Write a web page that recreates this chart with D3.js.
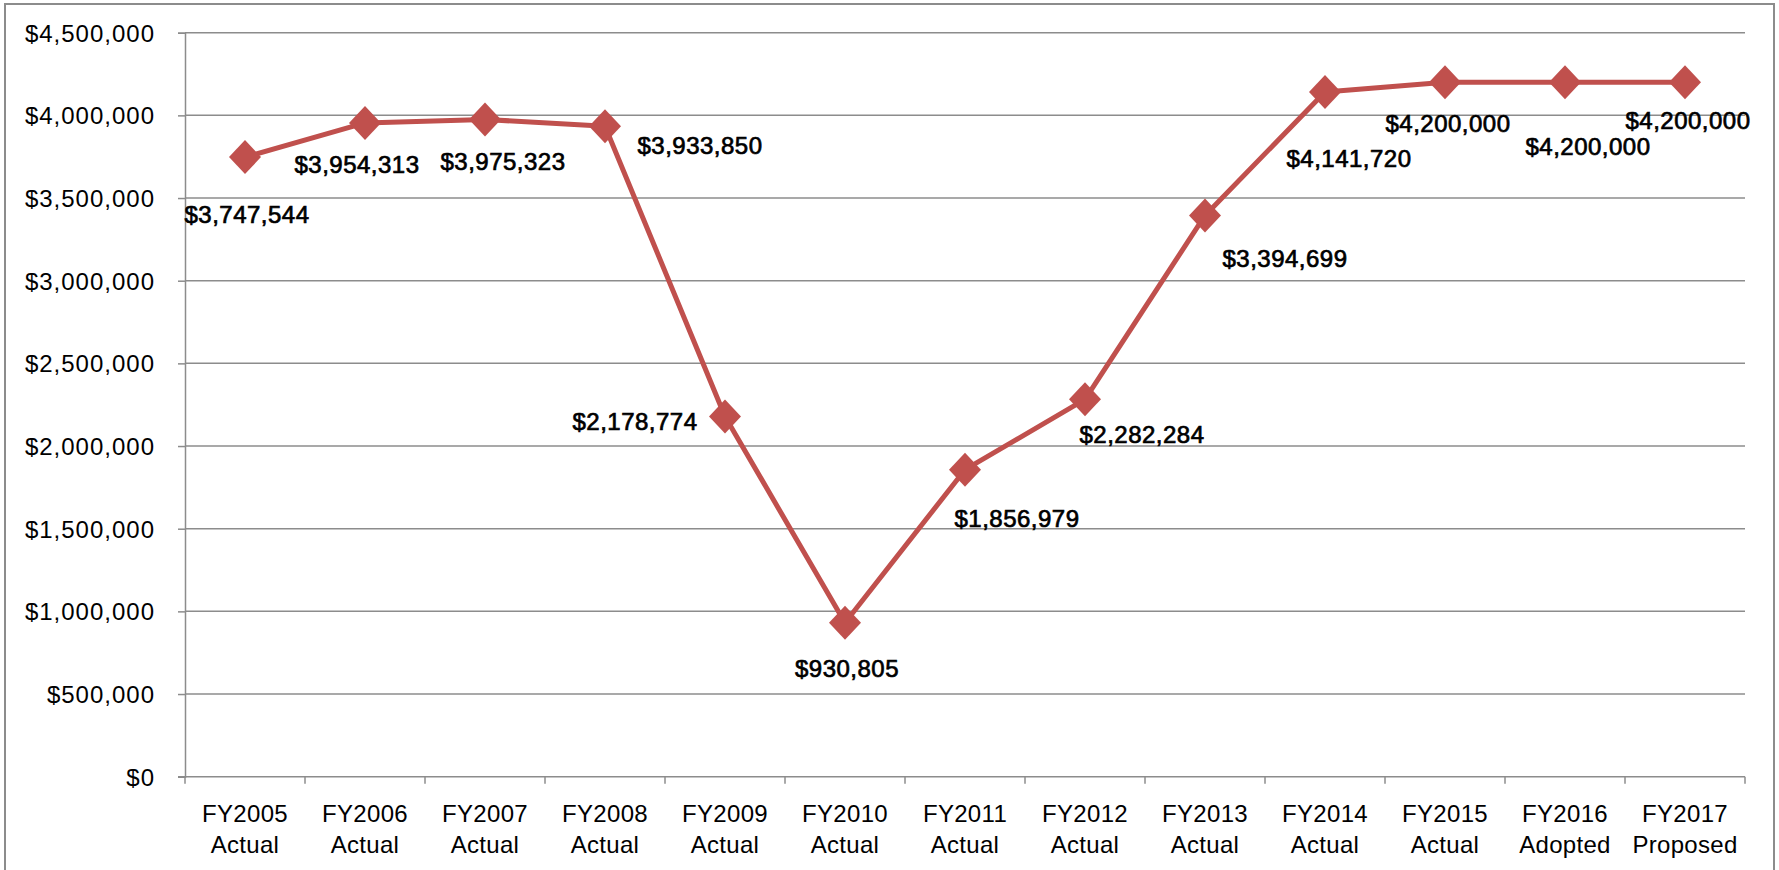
<!DOCTYPE html>
<html>
<head>
<meta charset="utf-8">
<script src="https://cdn.jsdelivr.net/npm/d3@7/dist/d3.min.js"></script>
<style>
  html, body { margin: 0; padding: 0; background: #fff; }
  svg { display: block; }
</style>
</head>
<body>
<svg id="chart" width="1779" height="870"></svg>
<script>
// ---- data ----
const categories = ["FY2005 Actual", "FY2006 Actual", "FY2007 Actual", "FY2008 Actual", "FY2009 Actual",
  "FY2010 Actual", "FY2011 Actual", "FY2012 Actual", "FY2013 Actual", "FY2014 Actual",
  "FY2015 Actual", "FY2016 Adopted", "FY2017 Proposed"];
const values = [3747544, 3954313, 3975323, 3933850, 2178774, 930805, 1856979, 2282284, 3394699, 4141720, 4200000, 4200000, 4200000];
const yTicks = [0, 500000, 1000000, 1500000, 2000000, 2500000, 3000000, 3500000, 4000000, 4500000];

// label placement offsets relative to each point (layout only)
const labelOffsets = [[2, 57], [-8, 41], [18, 42], [95, 19], [-90, 5], [2, 46], [52, 49], [57, 35], [80, 43], [24, 66], [3, 41], [23, 64], [3, 38]];

(function () {
const svg = d3.select("#chart");
const W = 1779, H = 870;
const pLeft = 185, pRight = 1745, pTop = 32.7, pBottom = 776.7;
const grey = "#8c8c8c";
const red = "#C0504D";
const fontFam = "'Liberation Sans', Arial, sans-serif";

svg.append("rect").attr("width", W).attr("height", H).attr("fill", "#fff");
// outer border
svg.append("rect").attr("x", 5).attr("y", 4).attr("width", 1769).attr("height", 880)
  .attr("fill", "none").attr("stroke", grey).attr("stroke-width", 2);

const x = d3.scaleBand().domain(categories).range([pLeft, pRight]).padding(0);
const y = d3.scaleLinear().domain([0, 4500000]).range([pBottom, pTop]);

// gridlines
svg.append("g").selectAll("line").data(yTicks.filter(d => d > 0)).join("line")
  .attr("x1", pLeft).attr("x2", pRight)
  .attr("y1", d => y(d)).attr("y2", d => y(d))
  .attr("stroke", grey).attr("stroke-width", 1.5);

// y axis
const fmt = d => "$" + d3.format(",")(d);
const yAxis = svg.append("g").attr("transform", `translate(${pLeft},0)`)
  .call(d3.axisLeft(y).tickValues(yTicks).tickFormat(fmt).tickSize(7).tickPadding(23));
yAxis.select(".domain").attr("stroke", grey).attr("stroke-width", 1.5);
yAxis.selectAll(".tick line").attr("stroke", grey).attr("stroke-width", 1.5);
yAxis.selectAll(".tick text").attr("fill", "#000").style("font-family", fontFam)
  .style("font-size", "24px").style("letter-spacing", "1px").attr("dy", "0.35em");

// x axis line
svg.append("line").attr("x1", pLeft - 7).attr("x2", pRight).attr("y1", pBottom).attr("y2", pBottom)
  .attr("stroke", grey).attr("stroke-width", 1.5);
// boundary ticks
const bounds = categories.map(c => x(c)).concat([x.range()[1]]);
svg.append("g").selectAll("line").data(bounds).join("line")
  .attr("x1", d => d).attr("x2", d => d).attr("y1", pBottom).attr("y2", pBottom + 7)
  .attr("stroke", grey).attr("stroke-width", 1.5);

// x labels
const xl = svg.append("g").selectAll("text").data(categories).join("text")
  .attr("x", d => x(d) + x.bandwidth() / 2)
  .attr("y", pBottom + 45.6)
  .attr("text-anchor", "middle")
  .style("font-family", fontFam).style("font-size", "24px").style("letter-spacing", "0.3px").attr("fill", "#000");
xl.each(function(d) {
  const parts = d.split(" ");
  const t = d3.select(this);
  t.append("tspan").attr("x", x(d) + x.bandwidth() / 2).text(parts[0]);
  t.append("tspan").attr("x", x(d) + x.bandwidth() / 2).attr("dy", 30.4).text(parts.slice(1).join(" "));
});

// line
const pts = categories.map((c, i) => ({ c, v: values[i], i }));
const line = d3.line().x(d => x(d.c) + x.bandwidth() / 2).y(d => y(d.v));
svg.append("path").datum(pts).attr("d", line)
  .attr("fill", "none").attr("stroke", red).attr("stroke-width", 5).attr("stroke-linejoin", "round");

// markers
svg.append("g").selectAll("path").data(pts).join("path")
  .attr("transform", d => `translate(${x(d.c) + x.bandwidth() / 2},${y(d.v)})`)
  .attr("d", "M0,-17L16,0L0,17L-16,0Z")
  .attr("fill", red);

// data labels
svg.append("g").selectAll("text").data(pts).join("text")
  .attr("x", d => x(d.c) + x.bandwidth() / 2 + labelOffsets[d.i][0])
  .attr("y", d => y(d.v) + labelOffsets[d.i][1])
  .attr("dy", "0.36em")
  .attr("text-anchor", "middle")
  .style("font-family", fontFam).style("font-size", "24px")
  .style("letter-spacing", "0.5px")
  .attr("fill", "#000").attr("stroke", "#000").attr("stroke-width", 0.7)
  .text(d => fmt(d.v));
})();
</script>
</body>
</html>
